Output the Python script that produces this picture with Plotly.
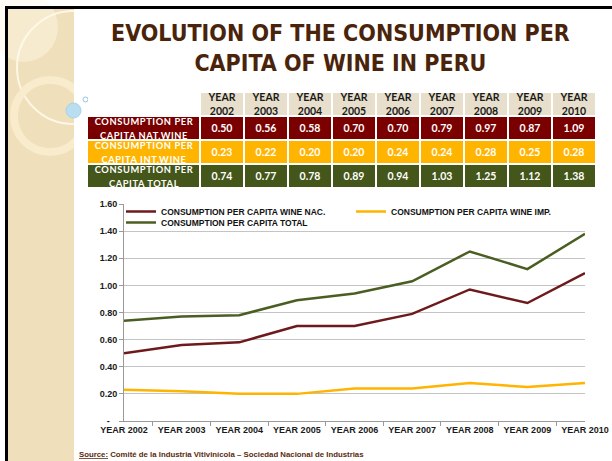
import plotly.graph_objects as go

W, H = 612, 461

years = ["2002", "2003", "2004", "2005", "2006", "2007", "2008", "2009", "2010"]
year_labels = ["YEAR " + y for y in years]
nat_wine = [0.50, 0.56, 0.58, 0.70, 0.70, 0.79, 0.97, 0.87, 1.09]
imp_wine = [0.23, 0.22, 0.20, 0.20, 0.24, 0.24, 0.28, 0.25, 0.28]
total_wine = [0.74, 0.77, 0.78, 0.89, 0.94, 1.03, 1.25, 1.12, 1.38]
row_labels = ["CONSUMPTION PER<br>CAPITA NAT.WINE",
              "CONSUMPTION PER<br>CAPITA INT.WINE",
              "CONSUMPTION PER<br>CAPITA TOTAL"]
legend_names = ["CONSUMPTION PER CAPITA WINE NAC.",
                "CONSUMPTION PER CAPITA WINE IMP.",
                "CONSUMPTION PER CAPITA TOTAL"]
y_ticks = [0, 0.2, 0.4, 0.6, 0.8, 1.0, 1.2, 1.4, 1.6]

MAROON = "#7a0000"
AMBER = "#ffb400"
OLIVE = "#445619"
BEIGE = "#e7dfcb"
LINE_NAT = "#6e1a1c"
LINE_IMP = "#ffb400"
LINE_TOT = "#4b5e22"
BROWN = "#4a240a"


def px(x):
    return x / W


def py(y):
    return 1 - y / H


fig = go.Figure()

# ---- table drawn as a heatmap on its own axes (cell edges in px)
col_edges = [0, 113] + [113 + 44 * (i + 1) for i in range(len(years))]
row_edges = [0, 24, 48, 72, 96]
z = [[0] + [1] * len(years)]
text = [[""] + [f"<span style='color:#1a1a1a'>YEAR<br>{y}</span>" for y in years]]
for code, label, vals in zip([2, 3, 4], row_labels, [nat_wine, imp_wine, total_wine]):
    z.append([code] * (len(years) + 1))
    text.append([f"<span style='font-size:9.3px;letter-spacing:0.6px'>{label}</span>"]
                + [f"{v:.2f}" for v in vals])

fig.add_trace(go.Heatmap(
    x=col_edges, y=row_edges, z=z, text=text, texttemplate="%{text}",
    textfont=dict(family="Lato", size=10.5, color="white", weight="bold"),
    colorscale=[[0, "white"], [0.25, BEIGE], [0.5, MAROON], [0.75, AMBER], [1, OLIVE]],
    zmin=0, zmax=4, showscale=False, xgap=2, ygap=2, hoverinfo="skip",
    xaxis="x2", yaxis="y2", showlegend=False,
))

# ---- lines
for name, vals, color, lg in zip(legend_names, [nat_wine, imp_wine, total_wine],
                                 [LINE_NAT, LINE_IMP, LINE_TOT],
                                 ["legend", "legend2", "legend3"]):
    fig.add_trace(go.Scatter(
        x=year_labels, y=vals, name=name, mode="lines",
        line=dict(color=color, width=2.5), legend=lg,
    ))

tick_font = dict(family="Arial", size=9, color="#1a1a1a", weight="bold")

fig.update_layout(
    xaxis=dict(
        domain=[px(124), px(585)], type="category", tickangle=0,
        showline=True, linecolor="#9a9a9a", linewidth=1,
        ticks="outside", tickson="boundaries", ticklen=4, tickcolor="#9a9a9a",
        showgrid=False, tickfont=tick_font, automargin=False,
    ),
    yaxis=dict(
        domain=[py(421), py(204)], range=[0, 1.6],
        tickvals=y_ticks,
        ticktext=["-\u00a0\u00a0\u00a0"] + [f"{v:.2f}" for v in y_ticks[1:]],
        showline=True, linecolor="#9a9a9a", linewidth=1,
        ticks="outside", ticklen=4, tickcolor="#9a9a9a",
        showgrid=True, gridcolor="#c4c4c4", gridwidth=1, zeroline=False,
        tickfont=tick_font, automargin=False,
    ),
    xaxis2=dict(domain=[px(87), px(87 + col_edges[-1])], range=[0, col_edges[-1]],
                visible=False, anchor="y2"),
    yaxis2=dict(domain=[py(92 + row_edges[-1]), py(92)], range=[row_edges[-1], 0],
                visible=False, anchor="x2"),
)

# ---- slide decoration
shapes = [
    dict(type="rect", xref="paper", yref="paper", x0=px(7), x1=px(74), y0=0, y1=py(8),
         fillcolor="#efdfba", line_width=0, layer="below"),
    dict(type="circle", xref="paper", yref="paper", x0=px(-10), x1=px(58), y0=py(62), y1=py(-8),
         fillcolor="rgba(255,248,232,0.45)", line_width=0, layer="below"),
    dict(type="circle", xref="paper", yref="paper", x0=px(17), x1=px(130), y0=py(124), y1=py(11),
         fillcolor="rgba(0,0,0,0)", line=dict(color="rgba(255,250,235,0.9)", width=2), layer="below"),
    dict(type="circle", xref="paper", yref="paper", x0=px(14), x1=px(86), y0=py(152), y1=py(80),
         fillcolor="rgba(0,0,0,0)", line=dict(color="rgba(248,236,205,0.95)", width=8), layer="below"),
    dict(type="rect", xref="paper", yref="paper", x0=px(74), x1=1, y0=0, y1=py(8),
         fillcolor="white", line_width=0, layer="below"),
    dict(type="circle", xref="paper", yref="paper", x0=px(66), x1=px(81), y0=py(118), y1=py(103),
         fillcolor="#b9def0", line=dict(color="#a6d2ea", width=1), layer="below"),
    dict(type="circle", xref="paper", yref="paper", x0=px(83), x1=px(88), y0=py(102), y1=py(97),
         fillcolor="white", line=dict(color="#8ec4e0", width=1), layer="below"),
    dict(type="rect", xref="paper", yref="paper", x0=px(5), x1=1, y0=py(9), y1=py(6),
         fillcolor="black", line_width=0),
    dict(type="rect", xref="paper", yref="paper", x0=px(5), x1=px(8), y0=0, y1=py(6),
         fillcolor="black", line_width=0),
]

annotations = [
    dict(text="<b>EVOLUTION OF THE CONSUMPTION PER<br>CAPITA OF WINE IN PERU</b>",
         x=px(340), y=py(48), xref="paper", yref="paper", showarrow=False,
         font=dict(family="DejaVu Sans Condensed, Liberation Sans Narrow, Arial Narrow, sans-serif",
                   size=23, color=BROWN),
         align="center", xanchor="center", yanchor="middle"),
    dict(text="<b><u>Source:</u> Comité de la Industria Vitivinícola – Sociedad Nacional de Industrias</b>",
         x=px(77), y=py(454), xref="paper", yref="paper", showarrow=False,
         font=dict(family="Arial", size=7.8, color="#5a2a0a"),
         xanchor="left", yanchor="middle"),
]

legend_style = dict(
    orientation="v", xanchor="left", yanchor="top", bgcolor="rgba(0,0,0,0)",
    font=dict(family="Arial", size=8.5, color="#111", weight="bold"),
    itemwidth=30, borderwidth=0,
)

fig.update_layout(
    width=W, height=H, autosize=False,
    margin=dict(l=0, r=0, t=0, b=0, autoexpand=False),
    paper_bgcolor="white", plot_bgcolor="white",
    shapes=shapes, annotations=annotations,
    showlegend=True,
    legend=dict(x=px(121), y=py(197), **legend_style),
    legend2=dict(x=px(351), y=py(197), **legend_style),
    legend3=dict(x=px(121), y=py(208), **legend_style),
    font=dict(family="Arial"),
)

fig.write_html("out.html", config={"displayModeBar": False},
               post_script="document.body.style.margin='0';")
